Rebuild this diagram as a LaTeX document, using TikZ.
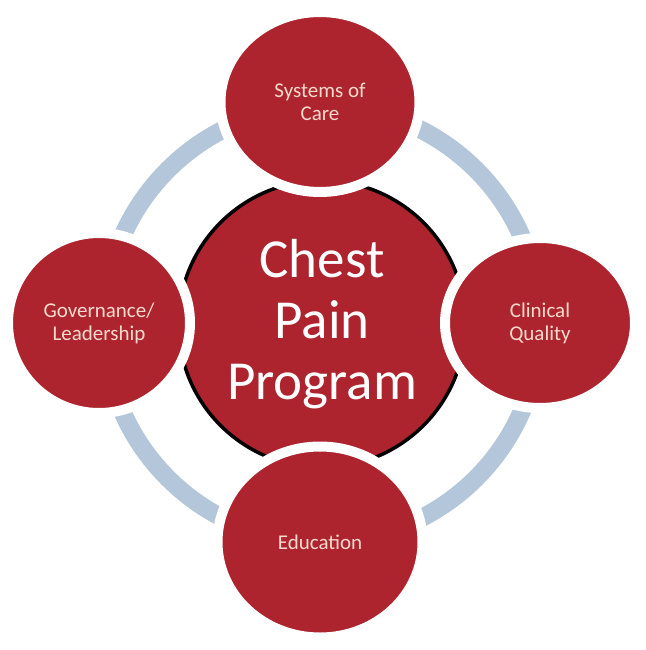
\documentclass[tikz,border=0pt]{standalone}
\usepackage{fontspec}
\setmainfont{Carlito}
\usetikzlibrary{shapes.geometric}
\definecolor{cpred}{RGB}{173,36,46}
\definecolor{ringblue}{RGB}{180,198,218}
\definecolor{paletext}{RGB}{245,218,205}
\begin{document}
\begin{tikzpicture}[x=1pt,y=-1pt,
  ringstyle/.style={draw=ringblue, line width=18pt},
  hub/.style={circle, fill=cpred, draw=black, line width=3.5pt, minimum size=287pt,
    inner sep=0pt, text=white, font=\fontsize{55}{61}\selectfont, align=center},
  petal/.style={ellipse, fill=cpred, draw=white, line width=10pt, inner sep=0pt,
    text=paletext, font=\fontsize{21}{23}\selectfont, align=center}]
\useasboundingbox (0,0) rectangle (645,650);
\fill[white] (0,0) rectangle (645,650);
\coordinate (mid) at (322,324);
\draw[ringstyle] (mid) circle[radius=218pt];
\node[hub] (hubnode) at (mid) {Chest\\Pain\\Program};
\node[petal, minimum width=199pt, minimum height=180pt] (top) at (320,102) {Systems of\\Care};
\node[petal, minimum width=182pt, minimum height=180pt] (left) at (99,323) {Governance/\\Leadership};
\node[petal, minimum width=190pt, minimum height=170pt] (right) at (540,323) {Clinical\\Quality};
\node[petal, minimum width=205pt, minimum height=191pt] (bottom) at (320,542) {Education};
\end{tikzpicture}
\end{document}
